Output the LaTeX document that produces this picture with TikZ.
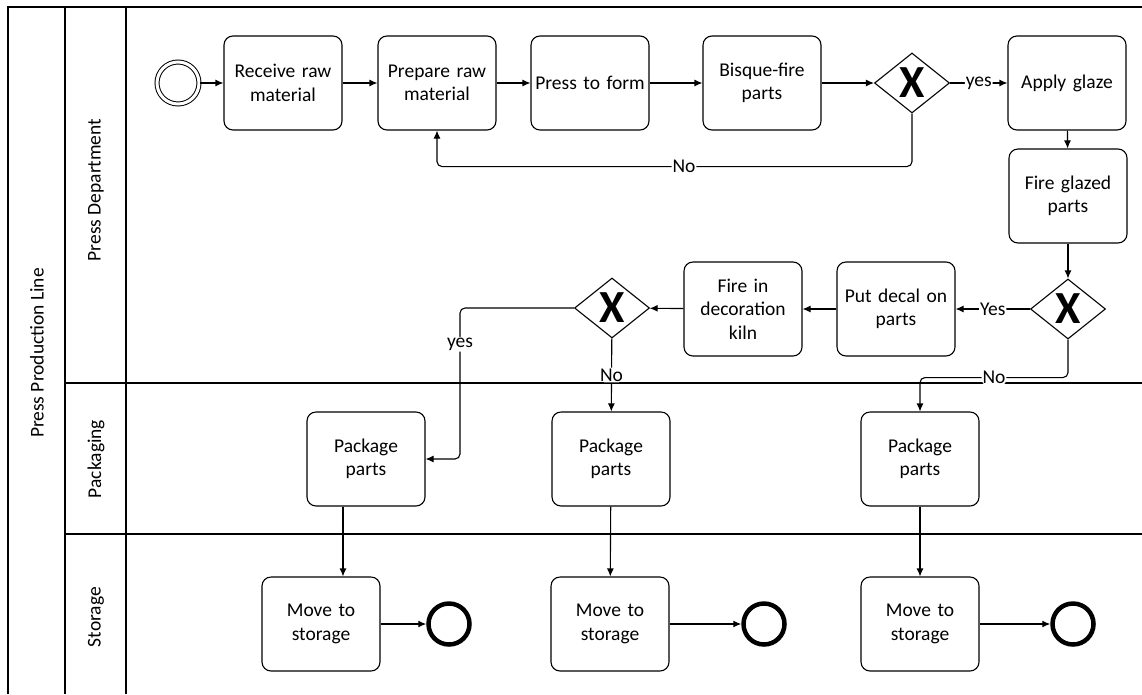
\documentclass[tikz,border=0pt]{standalone}
\usepackage{fontspec}
\setmainfont{Carlito}
\usetikzlibrary{arrows.meta,shapes.geometric,positioning}

\tikzset{
  task/.style={draw, rounded corners=9pt, line width=1.1pt, minimum width=118pt, minimum height=94pt,
    text width=112pt, align=center, inner sep=0pt, font=\fontsize{19.5}{23.5}\selectfont},
  gate/.style={draw, diamond, line width=1.1pt, minimum width=75pt, minimum height=60pt, inner sep=0pt,
    label={center:{\fontsize{46}{46}\selectfont\bfseries X}}},
  startev/.style={circle, draw, double, double distance=3pt, line width=1pt, minimum size=42pt, inner sep=0pt},
  endev/.style={circle, draw, line width=4.5pt, minimum size=41pt, inner sep=0pt},
  flow/.style={-{Latex[length=8pt,width=7pt]}, line width=1.1pt, rounded corners=5pt},
  lbl/.style={fill=white, inner sep=1pt, font=\fontsize{19.5}{23.5}\selectfont},
  lanelbl/.style={rotate=90, font=\fontsize{19.5}{23.5}\selectfont}
}

\begin{document}
\begin{tikzpicture}[x=1pt,y=-1pt]
\useasboundingbox (0,0) rectangle (1142,694);
% pool and lanes
\draw[line width=1.2pt] (8,694) -- (8,7);
\draw[line width=2.3pt] (7,7) -- (1142,7);
\draw[line width=1.8pt] (65,7) -- (65,694);
\draw[line width=1.2pt] (126,7) -- (126,694);
\draw[line width=1.2pt] (65,383) -- (1142,383);
\draw[line width=1.2pt] (65,534) -- (1142,534);
\node[lanelbl] (pool) at (37,353) {Press Production Line};
\node[lanelbl] (press dept) at (96,190) {Press Department};
\node[lanelbl] (packaging) at (96,459) {Packaging};
\node[lanelbl] (storage) at (96,617) {Storage};

% press department
\node[startev] (start) at (178,83) {};
\node[task] (receive) at (283,83) {Receive raw\\material};
\node[task] (prepare) at (437,83) {Prepare raw\\material};
\node[task] (pressform) at (590,83) {Press to form};
\node[task] (bisque) at (762,83) {Bisque-fire\\parts};
\node[gate] (gw1) at (912,83) {};
\node[task] (glaze) at (1067,83) {Apply glaze};
\node[task] (fireglazed) at (1068,196) {Fire glazed\\parts};
\node[gate] (gw2) at (1068,309) {};
\node[task] (decal) at (896,309) {Put decal on\\parts};
\node[task] (kiln) at (743,309) {Fire in\\decoration\\kiln};
\node[gate] (gw3) at (612,308) {};

% packaging
\node[task] (packA) at (366,459) {Package\\parts};
\node[task] (packB) at (611,459) {Package\\parts};
\node[task] (packC) at (920,459) {Package\\parts};

% storage
\node[task] (moveA) at (321,624) {Move to\\storage};
\node[task] (moveB) at (610,624) {Move to\\storage};
\node[task] (moveC) at (920,624) {Move to\\storage};
\node[endev] (endA) at (449,624) {};
\node[endev] (endB) at (764,624) {};
\node[endev] (endC) at (1073,624) {};

\coordinate (yesbend) at (460,459);
\coordinate (dropA) at (343,0);

\draw[flow] (start) -- (receive);
\draw[flow] (receive) -- (prepare);
\draw[flow] (prepare) -- (pressform);
\draw[flow] (pressform) -- (bisque);
\draw[flow] (bisque) -- (gw1);
\draw[flow] (gw1) -- node[lbl] {yes} (glaze);
\draw[flow] (gw1.south) -- ++(0,53) -| node[lbl, pos=0.24] {No} (prepare.south);
\draw[flow] (glaze) -- (fireglazed);
\draw[flow] (fireglazed) -- (gw2);
\draw[flow] (gw2) -- node[lbl] {Yes} (decal);
\draw[flow] (gw2.south) -- ++(0,38) -| node[lbl, pos=0.25] {No} (packC.north);
\draw[flow] (decal) -- (kiln);
\draw[flow] (kiln) -- (gw3);
\draw[flow] (gw3.west) -| node[lbl, pos=0.62] {yes} (yesbend) -- (packA.east);
\draw[flow] (gw3) -- node[lbl] {No} (packB);
\draw[flow] (packA.south -| dropA) -- (moveA.north -| dropA);
\draw[flow] (packB) -- (moveB);
\draw[flow] (packC) -- (moveC);
\draw[flow] (moveA) -- (endA);
\draw[flow] (moveB) -- (endB);
\draw[flow] (moveC) -- (endC);
\end{tikzpicture}
\end{document}
